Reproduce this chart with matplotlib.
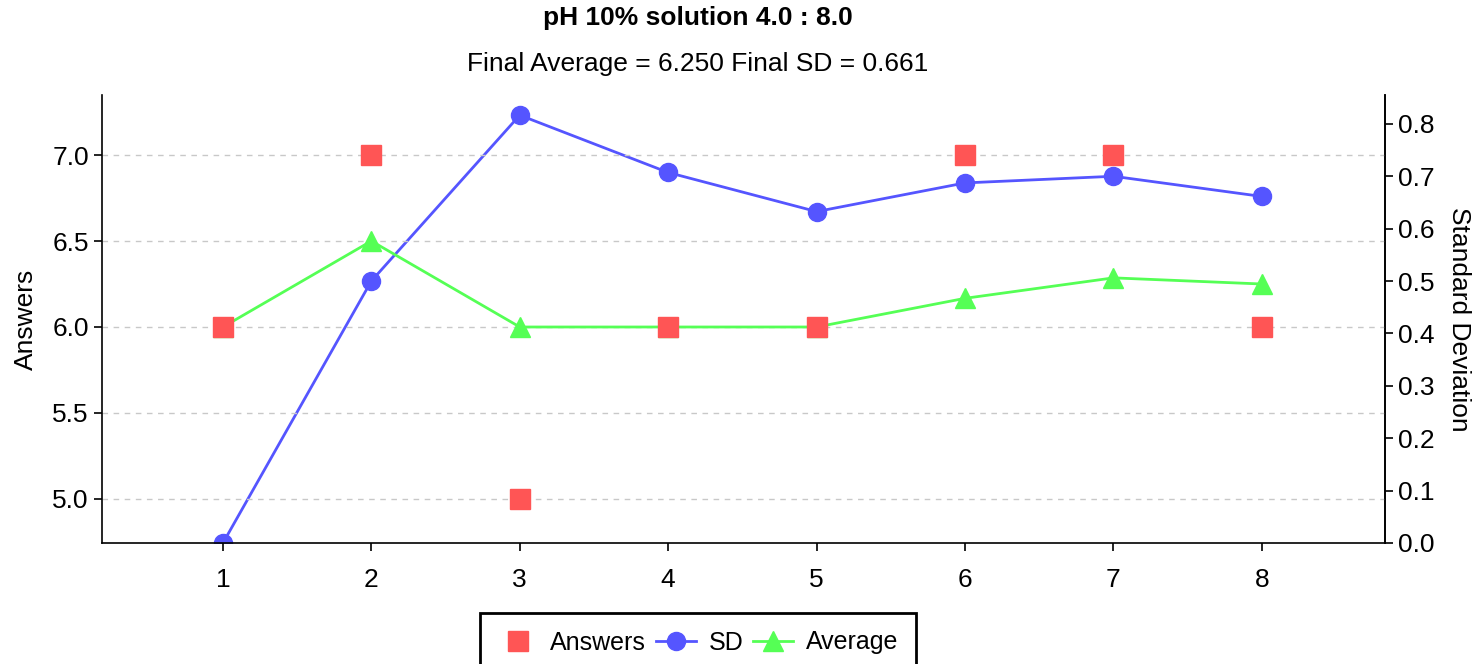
import matplotlib.pyplot as plt

plt.rcParams['font.family'] = ['Liberation Sans', 'DejaVu Sans']

# data
questions = [1, 2, 3, 4, 5, 6, 7, 8]
answers = [6, 7, 5, 6, 6, 7, 7, 6]
average = [6.0, 6.5, 6.0, 6.0, 6.0, 6.1667, 6.2857, 6.25]
sd = [0.0, 0.5, 0.8165, 0.7071, 0.6325, 0.6872, 0.6999, 0.6614]
left_ticks = [5.0, 5.5, 6.0, 6.5, 7.0]
right_ticks = [0.0, 0.1, 0.2, 0.3, 0.4, 0.5, 0.6, 0.7, 0.8]

W, H = 1474, 664
fig = plt.figure(figsize=(W / 100, H / 100), dpi=100)
ax = fig.add_axes([102 / W, 1 - 543 / H, (1385 - 102) / W, (543 - 95) / H])
ax2 = ax.twinx()

# SD on the twin axis, drawn underneath the left-axis series
ax.set_zorder(ax2.get_zorder() + 1)
ax.patch.set_visible(False)

red, blue, green = '#ff5555', '#5555ff', '#55ff55'

l_sd, = ax2.plot(questions, sd, color=blue, lw=2, marker='o', ms=13, label='SD')
l_avg, = ax.plot(questions, average, color=green, lw=2, marker='^', ms=14, label='Average')
l_ans, = ax.plot(questions, answers, ls='none', color=red, marker='s', ms=14, label='Answers')

ax.set_xlim(0.185, 8.83)
ax.set_ylim(4.744, 7.349)
ax2.set_ylim(0, 0.855)
ax.set_xticks(questions)
ax.set_yticks(left_ticks)
ax2.set_yticks(right_ticks)
ax.set_yticklabels([f'{v:.1f}' for v in left_ticks])
ax2.set_yticklabels([f'{v:.1f}' for v in right_ticks])

ax.yaxis.grid(True, ls=(0, (4, 4)), color='#c8c8c8', lw=1)
ax.set_axisbelow(True)

for a in (ax, ax2):
    a.spines['top'].set_visible(False)
    for s in a.spines.values():
        s.set_linewidth(1.2)
    a.tick_params(labelsize=19, length=6, width=1.2, direction='out')
ax.tick_params(axis='x', pad=12)
ax2.spines['left'].set_visible(False)
ax2.spines['bottom'].set_visible(False)

ax.set_ylabel('Answers', fontsize=19, labelpad=10)
ax2.set_ylabel('Standard Deviation', fontsize=19, rotation=270, labelpad=26)

cx = 698 / W
fig.text(cx, 1 - 18 / H, 'pH 10% solution 4.0 : 8.0', ha='center', va='center',
         fontsize=19, fontweight='bold')
fig.text(cx, 1 - 64 / H, 'Final Average = 6.250 Final SD = 0.661', ha='center',
         va='center', fontsize=19)

leg = fig.legend([l_ans, l_sd, l_avg], ['Answers', 'SD', 'Average'],
                 loc='upper center', bbox_to_anchor=(cx, 1 - 613 / H), ncol=3,
                 fontsize=18, fancybox=False, edgecolor='black', framealpha=1,
                 handlelength=1.6, handletextpad=0.5, columnspacing=0.4,
                 borderpad=0.7, borderaxespad=0)
leg.get_frame().set_linewidth(2)

fig.savefig('out.png', dpi=100)
